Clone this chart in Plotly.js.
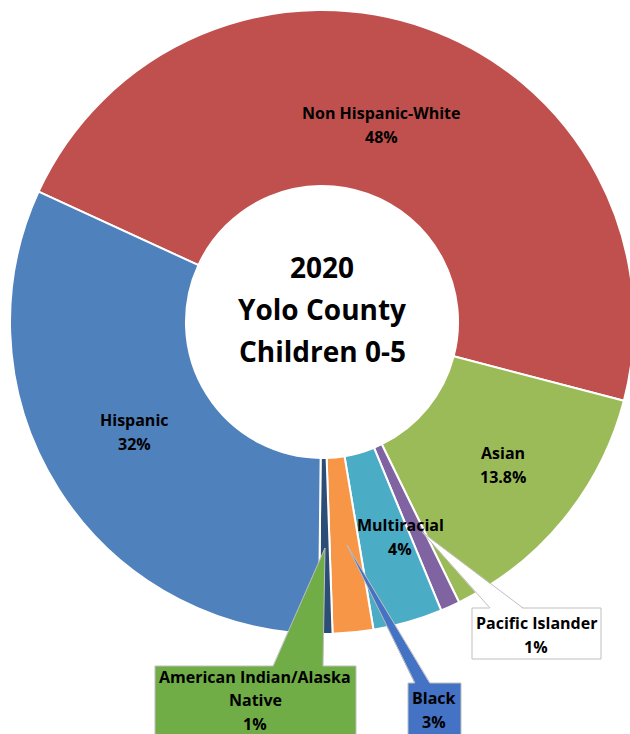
<!DOCTYPE html>
<html>
<head>
<meta charset="utf-8">
<script src="https://cdn.plot.ly/plotly-3.0.1.min.js"></script>
<style>
  html, body { margin: 0; padding: 0; overflow: hidden; background: #fff; }
  #chart { width: 660px; height: 734px; }
</style>
</head>
<body>
<div id="chart"></div>
<script>
// ---- data (clockwise from the Hispanic / Non Hispanic-White boundary) ----
var categories = ['Non Hispanic-White', 'Asian', 'Pacific Islander', 'Multiracial', 'Black', 'American Indian/Alaska Native', 'Hispanic'];
var values = [47.2, 13.7, 1.0, 3.6, 2.1, 0.7, 31.7];
var pctLabels = ['48%', '13.8%', '1%', '4%', '3%', '1%', '32%'];
var centerTitle = ['2020', 'Yolo County', 'Children 0-5'];

// ---- styles ----
var colors = ['#C0504D', '#9BBB59', '#8064A2', '#4BACC6', '#F79646', '#2C4D75', '#4F81BD'];
var FONT = '"Open Sans", Lato, sans-serif';

// plot area geometry (pixels)
var W = 660, H = 734, ML = 10, MR = 26, MT = 10, MB = 100;
var PW = W - ML - MR, PH = H - MT - MB;
function px(x) { return (x - ML) / PW; }
function py(y) { return 1 - (y - MT) / PH; }

var annotations = [];
function textBlock(lines, cx, cy, spacing, size) {
  var n = lines.length;
  for (var i = 0; i < n; i++) {
    annotations.push({
      xref: 'paper', yref: 'paper',
      x: px(cx), y: py(cy + (i - (n - 1) / 2) * spacing),
      xanchor: 'center', yanchor: 'middle',
      text: '<b>' + lines[i] + '</b>', showarrow: false,
      font: { family: FONT, size: size, color: '#000' }
    });
  }
}

// center title
textBlock(centerTitle, 322, 309, 42, 28);
// in-ring labels
textBlock([categories[0], pctLabels[0]], 381, 125, 24, 16);
textBlock([categories[6], pctLabels[6]], 134, 432, 24, 16);
textBlock([categories[1], pctLabels[1]], 503, 465, 24, 16);
textBlock([categories[3], pctLabels[3]], 400, 537, 24, 16);
// callout labels
textBlock(['American Indian/Alaska', 'Native', pctLabels[5]], 255, 700, 23.5, 16);
textBlock([categories[4], pctLabels[4]], 434, 710, 23.5, 16);
textBlock([categories[2], pctLabels[2]], 536, 635, 24, 16);

var shapes = [];
function callout(box, tip, b1, b2, fill, border) {
  shapes.push({ type: 'rect', xref: 'paper', yref: 'paper', layer: 'above',
    x0: px(box[0]), x1: px(box[1]), y0: py(box[2]), y1: py(box[3]),
    fillcolor: fill, line: { color: border, width: 1 } });
  var p = 'M' + px(b1) + ',' + py(box[2] + 1) + ' L' + px(tip[0]) + ',' + py(tip[1]) +
          ' L' + px(b2) + ',' + py(box[2] + 1) + ' Z';
  shapes.push({ type: 'path', xref: 'paper', yref: 'paper', layer: 'above', path: p,
    fillcolor: fill, line: { width: 0 } });
  shapes.push({ type: 'line', xref: 'paper', yref: 'paper', layer: 'above',
    x0: px(b1), y0: py(box[2]), x1: px(tip[0]), y1: py(tip[1]), line: { color: border, width: 1 } });
  shapes.push({ type: 'line', xref: 'paper', yref: 'paper', layer: 'above',
    x0: px(b2), y0: py(box[2]), x1: px(tip[0]), y1: py(tip[1]), line: { color: border, width: 1 } });
}
callout([155, 356, 666, 745], [325, 548], 273, 323, '#70AD47', '#BFBFBF');
callout([408, 461, 683, 745], [347, 545], 415, 430, '#4472C4', '#BFBFBF');
callout([472, 601, 608, 659], [422, 532], 490, 523, '#FFFFFF', '#BFBFBF');

var trace = {
  type: 'pie',
  labels: categories,
  values: values,
  sort: false,
  direction: 'clockwise',
  rotation: -65.3,
  hole: 0.436,
  textinfo: 'none',
  hoverinfo: 'label+percent',
  marker: { colors: colors, line: { color: '#FFFFFF', width: 2 } },
  showlegend: false
};

var layout = {
  width: W, height: H,
  margin: { l: ML, r: MR, t: MT, b: MB, pad: 0 },
  paper_bgcolor: '#FFFFFF',
  plot_bgcolor: '#FFFFFF',
  showlegend: false,
  annotations: annotations,
  shapes: shapes,
  font: { family: FONT }
};

Plotly.newPlot('chart', [trace], layout, { displayModeBar: false, staticPlot: true });
</script>
</body>
</html>
